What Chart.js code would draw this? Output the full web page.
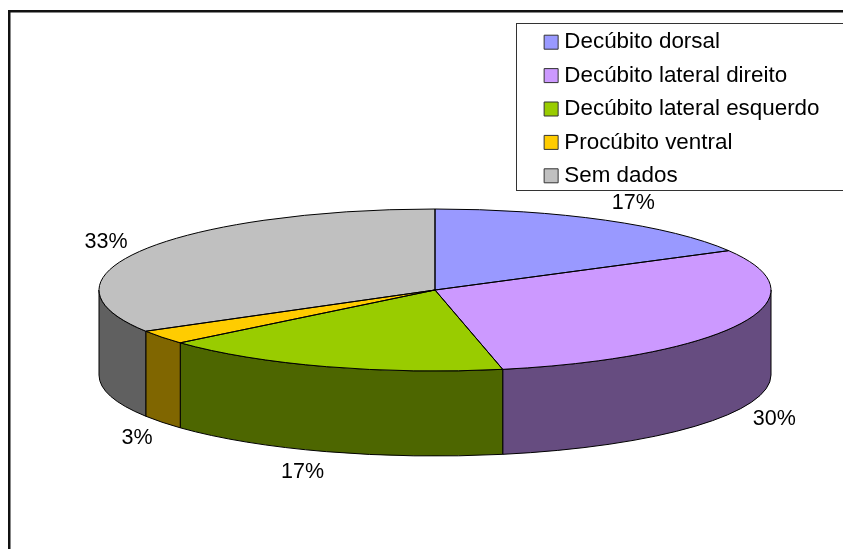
<!DOCTYPE html>
<html>
<head>
<meta charset="utf-8">
<title>Decúbito</title>
<script src="https://cdn.jsdelivr.net/npm/chart.js@4"></script>
<style>
    html, body { margin: 0; padding: 0; background: #fff; overflow: hidden; }
    #wrap { width: 843px; height: 549px; position: relative; }
</style>
</head>
<body>
<div id="wrap"><canvas id="pieChart"></canvas></div>
<script>
const categories = ['Decúbito dorsal', 'Decúbito lateral direito', 'Decúbito lateral esquerdo', 'Procúbito ventral', 'Sem dados'];
const percents = [16.9, 29.8, 16.9, 2.8, 33.45];
const topColors = ['#9999FF', '#CC99FF', '#99CC00', '#FFCC00', '#C0C0C0'];
const sideColors = ['#4D4D80', '#664C80', '#4D6600', '#806600', '#606060'];
// nudges from the rim point at the middle of each slice
const labelNudge = [[28, -17], [34, 10], [-24, 20], [-25, 16], [-37, -8]];

// the flattened disc
const CX = 435, CY = 290, RX = 336, RY = 81, DEPTH = 85;

function rimX(a) { return CX + RX * Math.cos(a); }
function rimY(a) { return CY + RY * Math.sin(a); }

const pie3d = {
    id: 'pie3d',
    beforeDraw(chart) {
        const ctx = chart.ctx;
        ctx.save();
        // outer frame runs off the right and bottom of the picture
        ctx.strokeStyle = '#111';
        ctx.lineWidth = 2.5;
        ctx.strokeRect(9.25, 11.25, 900, 600);
        // legend box
        ctx.strokeStyle = '#333';
        ctx.lineWidth = 1;
        ctx.strokeRect(516.5, 23.5, 400, 167);
        ctx.restore();
    },
    beforeDatasetsDraw(chart) {
        const ctx = chart.ctx;
        const arcs = chart.getDatasetMeta(0).data;

        // walls, front half of the disc only
        ctx.save();
        ctx.strokeStyle = '#000';
        ctx.lineWidth = 1;
        arcs.forEach((arc, i) => {
            const from = Math.max(arc.startAngle, 0);
            const to = Math.min(arc.endAngle, Math.PI);
            if (to <= from) return;
            ctx.beginPath();
            ctx.ellipse(CX, CY, RX, RY, 0, from, to);
            ctx.lineTo(rimX(to), rimY(to) + DEPTH);
            ctx.ellipse(CX, CY + DEPTH, RX, RY, 0, to, from, true);
            ctx.closePath();
            ctx.fillStyle = sideColors[i];
            ctx.fill();
            ctx.stroke();
        });
        ctx.restore();

        // library draws the slices, squashed onto the disc
        const first = arcs[0];
        ctx.save();
        ctx.translate(CX, CY);
        ctx.scale(RX / first.outerRadius, RY / first.outerRadius);
        ctx.translate(-first.x, -first.y);
    },
    afterDatasetsDraw(chart) {
        const ctx = chart.ctx;
        const arcs = chart.getDatasetMeta(0).data;
        ctx.restore();

        // outlines here so the line width is not squashed too
        ctx.save();
        ctx.strokeStyle = '#000';
        ctx.lineWidth = 1;
        arcs.forEach((arc) => {
            ctx.beginPath();
            ctx.moveTo(CX, CY);
            ctx.ellipse(CX, CY, RX, RY, 0, arc.startAngle, arc.endAngle);
            ctx.closePath();
            ctx.stroke();
        });

        ctx.fillStyle = '#000';
        ctx.font = '21.5px "Liberation Sans", Arial, sans-serif';
        ctx.textAlign = 'center';
        ctx.textBaseline = 'middle';
        arcs.forEach((arc, i) => {
            const mid = (arc.startAngle + arc.endAngle) / 2;
            const drop = Math.sin(mid) > 0 ? DEPTH : 0;
            ctx.fillText(Math.round(percents[i]) + '%', rimX(mid) + labelNudge[i][0], rimY(mid) + drop + labelNudge[i][1]);
        });
        ctx.restore();
    },
};

new Chart(document.getElementById('pieChart'), {
    type: 'pie',
    data: {
        labels: categories,
        datasets: [{
            data: percents,
            backgroundColor: topColors,
            borderWidth: 0,
            clip: false,
        }],
    },
    options: {
        responsive: true,
        maintainAspectRatio: false,
        animation: false,
        layout: {
            padding: { top: 20, right: 13.5, bottom: 10, left: 10 },
        },
        plugins: {
            tooltip: { enabled: false },
            legend: {
                position: 'right',
                align: 'start',
                labels: {
                    usePointStyle: true,
                    pointStyle: 'rect',
                    boxWidth: 4,
                    boxHeight: 14,
                    padding: 11,
                    color: '#000',
                    font: { family: '"Liberation Sans", Arial, sans-serif', size: 22.4 },
                    generateLabels(chart) {
                        return Chart.overrides.pie.plugins.legend.labels.generateLabels(chart).map((item) => {
                            item.strokeStyle = '#333';
                            item.lineWidth = 1;
                            return item;
                        });
                    },
                },
            },
        },
    },
    plugins: [pie3d],
});
</script>
</body>
</html>
